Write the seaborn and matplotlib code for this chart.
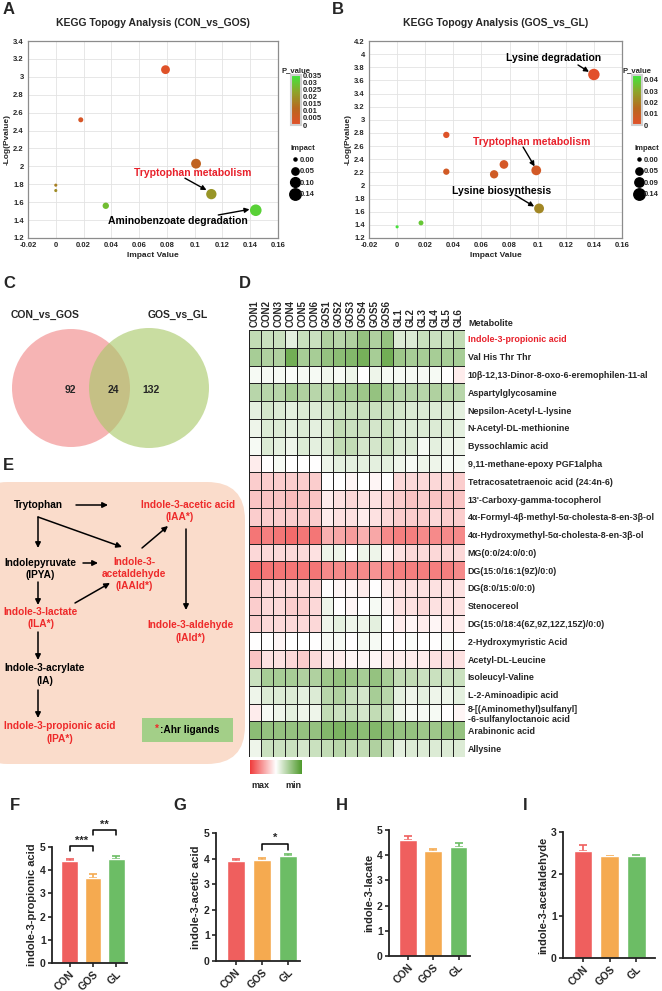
import numpy as np
import pandas as pd
import matplotlib
matplotlib.use("Agg")
import matplotlib.pyplot as plt
import seaborn as sns
from matplotlib.colors import LinearSegmentedColormap, Normalize
from matplotlib.cm import ScalarMappable
from matplotlib.patches import FancyBboxPatch, Circle, Rectangle
from matplotlib.lines import Line2D

sns.set_style("white")
plt.rcParams['font.family'] = ['Liberation Sans', 'DejaVu Sans']
plt.rcParams['font.weight'] = 'bold'
plt.rcParams['axes.labelweight'] = 'bold'
plt.rcParams['axes.titleweight'] = 'bold'

W, H = 662, 991

# ---- A / B: KEGG topology bubbles ----
a_impact = [0.079, 0.018, 0.101, 0.112, 0.144, 0.036, 0.0, 0.0]
a_logp = [3.08, 2.52, 2.03, 1.69, 1.51, 1.56, 1.79, 1.73]
b_impact = [0.140, 0.035, 0.035, 0.069, 0.076, 0.099, 0.101, 0.017, 0.0]
b_logp = [3.69, 2.77, 2.21, 2.17, 2.32, 2.23, 1.65, 1.43, 1.37]

# ---- C: Venn counts ----
venn_names = ['CON_vs_GOS', 'GOS_vs_GL']
venn_counts = [92, 24, 132]

# ---- D: heatmap (positive = max / red, negative = min / green) ----
hm_cols = ['CON1', 'CON2', 'CON3', 'CON4', 'CON5', 'CON6',
           'GOS1', 'GOS2', 'GOS3', 'GOS4', 'GOS5', 'GOS6',
           'GL1', 'GL2', 'GL3', 'GL4', 'GL5', 'GL6']
hm_rows = ['Indole-3-propionic acid', 'Val His Thr Thr',
           '10\u03b2-12,13-Dinor-8-oxo-6-eremophilen-11-al', 'Aspartylglycosamine',
           'Nepsilon-Acetyl-L-lysine', 'N-Acetyl-DL-methionine', 'Byssochlamic acid',
           '9,11-methane-epoxy PGF1alpha', 'Tetracosatetraenoic acid (24:4n-6)',
           "13'-Carboxy-gamma-tocopherol",
           '4\u03b1-Formyl-4\u03b2-methyl-5\u03b1-cholesta-8-en-3\u03b2-ol',
           '4\u03b1-Hydroxymethyl-5\u03b1-cholesta-8-en-3\u03b2-ol',
           'MG(0:0/24:0/0:0)', 'DG(15:0/16:1(9Z)/0:0)', 'DG(8:0/15:0/0:0)', 'Stenocereol',
           'DG(15:0/18:4(6Z,9Z,12Z,15Z)/0:0)', '2-Hydroxymyristic Acid', 'Acetyl-DL-Leucine',
           'Isoleucyl-Valine', 'L-2-Aminoadipic acid',
           '8-[(Aminomethyl)sulfanyl]\n-6-sulfanyloctanoic acid', 'Arabinonic acid', 'Allysine']
hm_vals = [
    [-.35, -.30, -.30, -.15, -.30, -.30, -.45, -.40, -.45, -.60, -.45, -.60, -.20, -.20, -.30, -.30, -.30, -.35],
    [-.50, -.45, -.45, -.80, -.50, -.50, -.60, -.65, -.70, -.78, -.50, -.80, -.55, -.50, -.50, -.50, -.50, -.50],
    [-.05, -.05, -.05, -.03, -.05, -.05, -.08, -.05, -.10, 0.0, -.10, -.05, -.05, -.05, -.05, -.05, 0.0, .10],
    [-.40, -.40, -.40, -.50, -.45, -.40, -.40, -.50, -.50, -.55, -.60, -.50, -.40, -.40, -.40, -.45, -.40, -.40],
    [-.15, -.25, -.20, -.15, -.20, -.20, -.25, -.30, -.30, -.30, -.30, -.30, -.25, -.20, -.20, -.20, -.20, -.15],
    [-.10, -.20, -.20, -.15, -.20, -.15, -.20, -.35, -.30, -.30, -.25, -.30, -.20, -.20, -.20, -.20, -.20, -.15],
    [-.05, -.20, -.15, -.10, -.20, -.15, -.20, -.35, -.35, -.25, -.25, -.30, -.20, -.20, -.05, -.15, -.10, -.10],
    [.10, 0.0, -.05, 0.0, 0.0, 0.0, -.10, -.15, -.15, -.15, -.15, -.15, -.10, -.05, -.10, -.10, -.05, -.05],
    [.25, .25, .25, .25, .25, .25, 0.0, 0.0, .05, 0.0, .05, 0.0, .20, .20, .20, .20, .20, .25],
    [.30, .30, .30, .35, .30, .30, .10, .15, .20, .15, .15, .20, .25, .30, .25, .30, .30, .30],
    [.25, .25, .25, .25, .25, .25, .10, .15, .15, .10, .15, .20, .25, .25, .25, .20, .25, .25],
    [.70, .65, .70, .75, .70, .70, .40, .45, .50, .40, .45, .60, .65, .65, .60, .60, .60, .60],
    [.20, .20, .20, .20, .20, .15, -.10, -.10, 0.0, -.10, -.10, .05, .15, .20, .20, .20, .20, .20],
    [.75, .70, .70, .70, .70, .70, .60, .60, .60, .60, .55, .60, .65, .65, .65, .65, .65, .60],
    [.25, .20, .20, .20, .20, .20, 0.0, .05, .05, .10, 0.0, .10, .15, .15, .15, .15, .15, .15],
    [.25, .20, .20, .25, .25, .20, -.10, 0.0, .05, 0.0, -.05, .05, .15, .15, .20, .15, .15, .15],
    [.25, .20, .20, .20, .20, .20, -.10, -.15, -.10, -.10, -.15, 0.0, .10, .05, .10, .05, .10, .10],
    [0.0, 0.0, .05, 0.0, 0.0, 0.0, -.05, -.05, 0.0, -.05, -.05, 0.0, 0.0, -.03, 0.0, 0.0, -.03, 0.0],
    [.30, .15, .15, .20, .25, .20, .10, .10, .05, .05, .05, .10, .10, .10, .10, .15, .15, .15],
    [-.30, -.50, -.50, -.50, -.45, -.45, -.55, -.60, -.55, -.50, -.60, -.50, -.35, -.35, -.30, -.30, -.30, -.30],
    [-.10, -.20, -.20, -.20, -.15, -.20, -.40, -.45, -.30, -.25, -.50, -.40, -.15, -.10, -.15, -.10, -.10, -.15],
    [.10, -.05, -.10, -.15, -.10, -.10, -.35, -.30, -.30, -.25, -.35, -.30, -.10, -.05, -.05, -.05, 0.0, .05],
    [-.65, -.60, -.60, -.60, -.60, -.60, -.70, -.75, -.70, -.65, -.70, -.65, -.60, -.60, -.55, -.55, -.60, -.60],
    [-.10, -.30, -.30, -.30, -.25, -.30, -.35, -.40, -.35, -.35, -.45, -.35, -.15, -.20, -.20, -.20, -.20, -.20],
]

# ---- F-I: indole metabolites ----
groups = ['CON', 'GOS', 'GL']
ipa_mean = [4.40, 3.66, 4.50]
ipa_sem = [0.08, 0.18, 0.13]
iaa_mean = [3.92, 3.95, 4.12]
iaa_sem = [0.06, 0.07, 0.05]
ila_mean = [4.62, 4.16, 4.32]
ila_sem = [0.15, 0.07, 0.18]
iaald_mean = [2.55, 2.42, 2.43]
iaald_sem = [0.13, 0.02, 0.02]

bar_colors = ['#ef5f5e', '#f5aa50', '#6cbd65']
pcmap = LinearSegmentedColormap.from_list('pv', ['#e2502a', '#b8681f', '#8ea42a', '#3ee83e'])
hmcmap = LinearSegmentedColormap.from_list('hm', ['#4f9a2c', '#ffffff', '#f03c3c'])


def px_rect(l, t, r, b):
    return [l / W, 1 - b / H, (r - l) / W, (b - t) / H]


fig = plt.figure(figsize=(W / 100, H / 100), dpi=100)
ov = fig.add_axes([0, 0, 1, 1])
ov.set_xlim(0, W)
ov.set_ylim(H, 0)
ov.axis('off')

for lab, x, y in [('A', 9, 9), ('B', 338, 9), ('C', 9, 283), ('D', 245, 283),
                  ('E', 8, 465), ('F', 15, 805), ('G', 180, 805), ('H', 342, 805), ('I', 525, 805)]:
    ov.text(x, y, lab, fontsize=12, weight='bold', ha='center', va='center')


def size_of(imp):
    return 5 + 65 * imp / 0.145


def kegg_panel(rect, impact, logp, title, ylim, pmax, pticks, size_labels, notes, cbar_rect):
    ax = fig.add_axes(rect)
    df = pd.DataFrame({'impact': impact, 'logp': logp})
    df['p'] = 10 ** (-df['logp'])
    sns.scatterplot(data=df, x='impact', y='logp', hue='p', size='impact', palette=pcmap,
                    hue_norm=(0, pmax), sizes=(5, 70), size_norm=(0, 0.145), legend=False,
                    edgecolor='none', ax=ax, zorder=3)
    ax.set_xlim(-0.02, 0.16)
    ax.set_ylim(*ylim)
    ax.set_xticks(np.round(np.arange(-0.02, 0.161, 0.02), 2))
    ax.set_yticks(np.round(np.arange(ylim[0], ylim[1] + 0.01, 0.2), 1))
    ax.set_xticklabels([f'{t:g}' for t in ax.get_xticks()])
    ax.set_yticklabels([f'{t:g}' for t in ax.get_yticks()])
    ax.tick_params(labelsize=5.5, length=2, width=0.6, pad=1, color='#777777')
    ax.grid(True, color='#e3e3e3', lw=0.6)
    for s in ax.spines.values():
        s.set_color('#8c8c8c')
        s.set_linewidth(0.9)
    ax.set_xlabel('Impact Value', fontsize=6, labelpad=2)
    ax.set_ylabel('-Log(Pvalue)', fontsize=6, labelpad=2)
    ax.set_title(title, fontsize=7.5, pad=11)
    for text, color, txy, start, end in notes:
        ax.text(txy[0], txy[1], text, color=color, fontsize=7.5, ha='center', va='center', zorder=4)
        ax.annotate('', xy=end, xytext=start,
                    arrowprops=dict(arrowstyle='-|>', color='k', lw=1.0, mutation_scale=7,
                                    shrinkA=0, shrinkB=0), zorder=4)
    cax = fig.add_axes(cbar_rect)
    cb = fig.colorbar(ScalarMappable(norm=Normalize(0, pmax), cmap=pcmap), cax=cax, ticks=pticks)
    cb.ax.set_yticklabels([f'{t:g}' for t in pticks])
    cb.ax.tick_params(labelsize=5.5, length=0, pad=1)
    cb.outline.set_edgecolor('#d0d0d0')
    cb.outline.set_linewidth(1.5)
    cax.set_title('P_value', fontsize=5.5, pad=2)
    handles = [Line2D([], [], marker='o', color='k', ls='', markersize=np.sqrt(size_of(v)))
               for v in size_labels]
    leg = ax.legend(handles, [f'{v:.2f}' for v in size_labels], title='Impact', loc='upper left',
                    bbox_to_anchor=(1.035, 0.49), frameon=False, fontsize=5.5, title_fontsize=5.5,
                    handletextpad=0.2, labelspacing=0.55, borderpad=0, handlelength=1.0)
    leg.get_title().set_fontweight('bold')
    return ax


kegg_panel(px_rect(28, 41, 278, 238), a_impact, a_logp, 'KEGG Topogy Analysis (CON_vs_GOS)',
           (1.2, 3.4), 0.035, [0, 0.005, 0.01, 0.015, 0.02, 0.025, 0.03, 0.035],
           [0.00, 0.05, 0.10, 0.14],
           [('Tryptophan metabolism', '#e8202a', (0.0988, 1.93), (0.093, 1.868), (0.1085, 1.735)),
            ('Aminobenzoate degradation', 'black', (0.088, 1.39), (0.117, 1.457), (0.1395, 1.52))],
           px_rect(291, 75, 301, 125))

kegg_panel(px_rect(369, 41, 622, 238), b_impact, b_logp, 'KEGG Topogy Analysis (GOS_vs_GL)',
           (1.2, 4.2), 0.0444, [0, 0.01, 0.02, 0.03, 0.04],
           [0.00, 0.05, 0.09, 0.14],
           [('Lysine degradation', 'black', (0.1116, 3.94), (0.1287, 3.835), (0.1365, 3.73)),
            ('Tryptophan metabolism', '#e8202a', (0.096, 2.66), (0.0896, 2.586), (0.0978, 2.29)),
            ('Lysine biosynthesis', 'black', (0.0746, 1.92), (0.0839, 1.855), (0.0975, 1.68))],
           px_rect(632, 75, 642, 125))

# ---- C: Venn ----
ov.add_patch(Circle((71, 388), 59, fc='#f07f7f', alpha=0.58, ec='none'))
ov.add_patch(Circle((149, 388), 60, fc='#a8c868', alpha=0.62, ec='none'))
ov.text(45, 315, venn_names[0], fontsize=7.5, ha='center', va='center')
ov.text(178, 315, venn_names[1], fontsize=7.5, ha='center', va='center')
for x, n in zip([70, 113, 151], venn_counts):
    ov.text(x, 390, str(n), fontsize=7.5, ha='center', va='center')

# ---- D: heatmap ----
hm = pd.DataFrame(hm_vals, index=hm_rows, columns=hm_cols)
axh = fig.add_axes(px_rect(249, 330, 465, 757))
sns.heatmap(hm, cmap=hmcmap, vmin=-1, vmax=1, cbar=False, linewidths=0.6, linecolor='#222222',
            ax=axh, xticklabels=True, yticklabels=True)
axh.xaxis.tick_top()
axh.yaxis.tick_right()
axh.set_xticklabels(hm_cols, rotation=90, fontsize=7)
axh.set_yticklabels(hm_rows, rotation=0, fontsize=6.4, ha='left')
axh.tick_params(length=0, pad=2)
axh.get_yticklabels()[0].set_color('#e8202a')
axh.set_xlabel('')
axh.set_ylabel('')
ov.text(468, 323, 'Metabolite', fontsize=6.5, ha='left', va='center')

ckey = fig.add_axes(px_rect(250, 760, 302, 774))
ckey.imshow(np.linspace(1, -1, 200)[None, :], cmap=hmcmap, vmin=-1, vmax=1, aspect='auto')
ckey.axis('off')
ov.text(260, 785, 'max', fontsize=6.5, ha='center', va='center')
ov.text(293, 785, 'min', fontsize=6.5, ha='center', va='center')

# ---- E: tryptophan pathway ----
ov.add_patch(FancyBboxPatch((-30, 482), 275, 282, boxstyle='round,pad=0,rounding_size=38',
                            fc='#fadccb', ec='none'))
red = '#ee2a2a'
fs = 7.3
pw_text = [
    ('Trytophan', 38, 505, 'black'),
    ('Indole-3-acetic acid', 188, 505, red), ('(IAA*)', 180, 517, red),
    ('Indolepyruvate', 40, 563, 'black'), ('(IPYA)', 40, 575, 'black'),
    ('Indole-3-', 134, 562, red), ('acetaldehyde', 134, 574, red), ('(IAAld*)', 134, 586, red),
    ('Indole-3-lactate', 41, 612, red), ('(ILA*)', 41, 624, red),
    ('Indole-3-aldehyde', 190, 625, red), ('(IAld*)', 190, 638, red),
    ('Indole-3-acrylate', 45, 668, 'black'), ('(IA)', 45, 681, 'black'),
    ('Indole-3-propionic acid', 60, 726, red), ('(IPA*)', 60, 739, red),
]
for t, x, y, c in pw_text:
    ov.text(x, y, t, fontsize=fs, color=c, ha='center', va='center')

arrows = [((76, 505), (108, 505)), ((38, 517), (38, 548)), ((38, 517), (122, 547)),
          ((83, 563), (98, 563)), ((38, 582), (38, 605)), ((75, 603), (110, 583)),
          ((142, 548), (168, 526)), ((186, 529), (186, 610)), ((38, 632), (38, 660)),
          ((38, 690), (38, 718))]
for s, e in arrows:
    ov.annotate('', xy=e, xytext=s,
                arrowprops=dict(arrowstyle='-|>', color='k', lw=1.1, mutation_scale=8,
                                shrinkA=0, shrinkB=0))

ov.add_patch(Rectangle((142, 718), 91, 24, fc='#a3cf88', ec='none'))
ov.text(157, 729, '*', fontsize=fs, color=red, ha='center', va='center')
ov.text(160, 730, ':Ahr ligands', fontsize=fs, color='black', ha='left', va='center')


# ---- F-I: bars ----
def bar_panel(rect, means, sems, ylabel, ymax, brackets, xmax=2.45):
    ax = fig.add_axes(rect)
    df = pd.DataFrame({'group': groups, 'value': means})
    sns.barplot(data=df, x='group', y='value', hue='group', palette=bar_colors, width=0.7,
                saturation=1, legend=False, ax=ax, zorder=2)
    for i, (m, s) in enumerate(zip(means, sems)):
        ax.errorbar(i, m, yerr=[[0], [s]], color=bar_colors[i], capsize=3, elinewidth=1.2,
                    capthick=1.2, zorder=1)
    ax.set_xlim(-0.75, xmax)
    ax.set_ylim(0, ymax)
    ax.set_yticks(range(0, ymax + 1))
    ax.set_xlabel('')
    ax.set_ylabel(ylabel, fontsize=8, labelpad=2)
    ax.set_xticks(range(3))
    ax.set_xticklabels(groups, rotation=45, ha='right', rotation_mode='anchor')
    ax.tick_params(labelsize=7.5, length=3, width=1.2, pad=1.5, left=True, bottom=True)
    sns.despine(ax=ax)
    for s in ['left', 'bottom']:
        ax.spines[s].set_linewidth(1.3)
        ax.spines[s].set_color('#222222')
    for i, j, y, drop, lab in brackets:
        ax.plot([i, i, j, j], [y - drop, y, y, y - drop], color='k', lw=1.1, clip_on=False)
        ax.text((i + j) / 2, y + 0.02, lab, ha='center', va='bottom', fontsize=8, clip_on=False)
    return ax


bar_panel(px_rect(52, 847, 127, 963), ipa_mean, ipa_sem, 'indole-3-propionic acid', 5,
          [(0, 1, 5.04, 0.21, '***'), (1, 2, 5.73, 0.23, '**')])
bar_panel(px_rect(216, 833, 300, 961), iaa_mean, iaa_sem, 'indole-3-acetic acid', 5,
          [(1, 2, 4.58, 0.23, '*')])
bar_panel(px_rect(389, 830, 470, 956), ila_mean, ila_sem, 'indole-3-lacate', 5, [])
bar_panel(px_rect(563, 832, 655, 958), iaald_mean, iaald_sem, 'indole-3-acetaldehyde', 3, [],
          xmax=2.7)

fig.savefig('out.png', dpi=100)
